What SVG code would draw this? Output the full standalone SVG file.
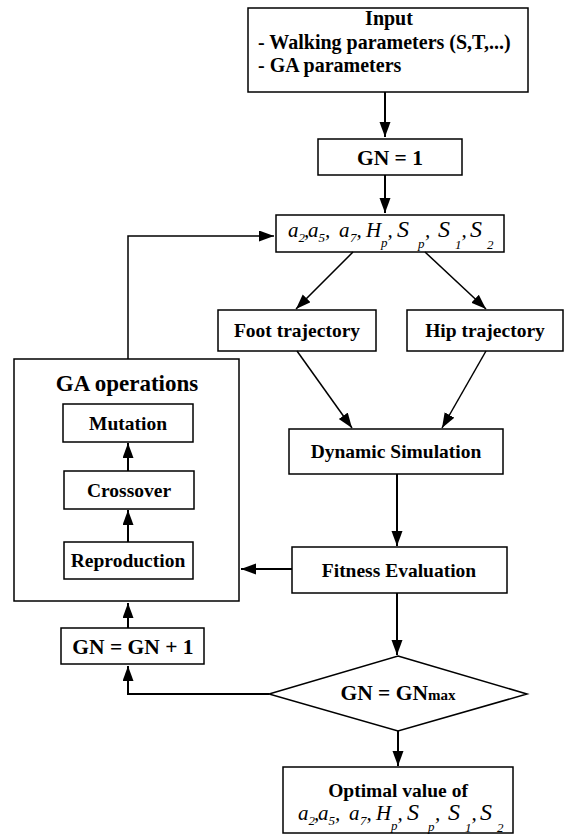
<svg xmlns="http://www.w3.org/2000/svg" width="566" height="838" viewBox="0 0 566 838">
<defs>
<style>
.box{fill:#fff;stroke:#000;stroke-width:1.5}
.t{font-family:"Liberation Serif","Times New Roman",serif;font-weight:bold;font-size:19.5px;fill:#000}
.c{text-anchor:middle}
.f{font-family:"Liberation Serif","Times New Roman",serif;font-style:italic;font-size:21px;fill:#000}
.sub{font-size:13px}
.S{font-size:24px}
.a{fill:none;stroke:#000;stroke-width:2;marker-end:url(#ah)}
.a1{fill:none;stroke:#000;stroke-width:1.5;marker-end:url(#ah)}
</style>
<marker id="ah" markerUnits="userSpaceOnUse" markerWidth="16" markerHeight="12" refX="15" refY="5.5" orient="auto">
<path d="M0,0 L15,5.5 L0,11 z" fill="#000"/>
</marker>
</defs>
<rect width="566" height="838" fill="#fff"/>

<g id="input">
<rect class="box" x="248" y="8" width="280" height="84"/>
<text class="t c" x="389" y="25" style="font-size:20px">Input</text>
<text class="t" x="258" y="49" style="font-size:20px">- Walking parameters (S,T,...)</text>
<text class="t" x="258" y="72" style="font-size:20px">- GA parameters</text>
</g>

<g id="gn1">
<rect class="box" x="318" y="139" width="144" height="36"/>
<text class="t c" x="390" y="165" style="font-size:21.5px">GN = 1</text>
</g>

<g id="params">
<rect class="box" x="276" y="215" width="228" height="37"/>
<text class="f" y="237"><tspan x="288">a</tspan><tspan class="sub" x="298.5" y="242">2</tspan><tspan x="304" y="237">,</tspan><tspan x="308">a</tspan><tspan class="sub" x="318.5" y="242">5</tspan><tspan x="325" y="237">,</tspan><tspan x="339">a</tspan><tspan class="sub" x="350" y="242">7</tspan><tspan x="356.5" y="237">,</tspan><tspan x="366">H</tspan><tspan class="sub" x="381" y="247">p</tspan><tspan x="387.5" y="237">,</tspan><tspan class="S" x="397">S</tspan><tspan class="sub" x="418" y="248">p</tspan><tspan x="425" y="237">,</tspan><tspan class="S" x="438">S</tspan><tspan class="sub" x="455" y="249">1</tspan><tspan x="461.5" y="237">,</tspan><tspan class="S" x="470">S</tspan><tspan class="sub" x="487" y="249">2</tspan></text>
</g>

<g id="foot">
<rect class="box" x="218" y="310" width="158" height="41"/>
<text class="t c" x="297" y="337">Foot trajectory</text>
</g>

<g id="hip">
<rect class="box" x="407" y="310" width="156" height="41"/>
<text class="t c" x="485" y="337">Hip trajectory</text>
</g>

<g id="dynamic">
<rect class="box" x="289" y="429" width="214" height="45"/>
<text class="t c" x="396" y="458">Dynamic Simulation</text>
</g>

<g id="fitness">
<rect class="box" x="292" y="547" width="215" height="46"/>
<text class="t c" x="399" y="577">Fitness Evaluation</text>
</g>

<g id="ga">
<rect class="box" x="14" y="359" width="225" height="242"/>
<text class="t c" x="127" y="391" style="font-size:23px">GA operations</text>
</g>

<g id="mutation">
<rect class="box" x="63" y="404" width="130" height="38"/>
<text class="t c" x="128" y="430">Mutation</text>
</g>

<g id="crossover">
<rect class="box" x="64" y="471" width="130" height="38"/>
<text class="t c" x="129" y="497">Crossover</text>
</g>

<g id="reproduction">
<rect class="box" x="64" y="542" width="129" height="37"/>
<text class="t c" x="128" y="567">Reproduction</text>
</g>

<g id="gninc">
<rect class="box" x="61" y="628" width="143" height="36"/>
<text class="t c" x="133" y="654" style="font-size:21.5px">GN = GN + 1</text>
</g>

<g id="decision">
<polygon class="box" points="398,656 527,694 398,731 269,694"/>
<text class="t c" x="398" y="700" style="font-size:21.5px">GN = GN<tspan style="font-size:15px">max</tspan></text>
</g>

<g id="optimal">
<rect class="box" x="283" y="767" width="230" height="66"/>
<text class="t c" x="398" y="797">Optimal value of</text>
<g transform="translate(10,583)">
<text class="f" y="237"><tspan x="288">a</tspan><tspan class="sub" x="298.5" y="242">2</tspan><tspan x="304" y="237">,</tspan><tspan x="308">a</tspan><tspan class="sub" x="318.5" y="242">5</tspan><tspan x="325" y="237">,</tspan><tspan x="339">a</tspan><tspan class="sub" x="350" y="242">7</tspan><tspan x="356.5" y="237">,</tspan><tspan x="366">H</tspan><tspan class="sub" x="381" y="247">p</tspan><tspan x="387.5" y="237">,</tspan><tspan class="S" x="397">S</tspan><tspan class="sub" x="418" y="248">p</tspan><tspan x="425" y="237">,</tspan><tspan class="S" x="438">S</tspan><tspan class="sub" x="455" y="249">1</tspan><tspan x="461.5" y="237">,</tspan><tspan class="S" x="470">S</tspan><tspan class="sub" x="487" y="249">2</tspan></text>
</g>
</g>

<g id="connectors">
<path class="a" d="M385,92 V137"/>
<path class="a" d="M385,175 V213"/>
<path class="a1" d="M353,252 L296,309"/>
<path class="a1" d="M425,252 L486,309"/>
<path class="a1" d="M297,351 L352,428"/>
<path class="a1" d="M486,351 L442,428"/>
<path class="a" d="M397,474 V546"/>
<path class="a" d="M292,569 H241"/>
<path class="a" d="M397,593 V655"/>
<path class="a" d="M398,731 V766"/>
<path class="a" d="M269,694 H128 V666"/>
<path class="a" d="M128,628 V603"/>
<path class="a1" d="M128,359 V236 H274"/>
<path class="a" d="M128,542 V510"/>
<path class="a" d="M128,471 V443"/>
</g>
</svg>
